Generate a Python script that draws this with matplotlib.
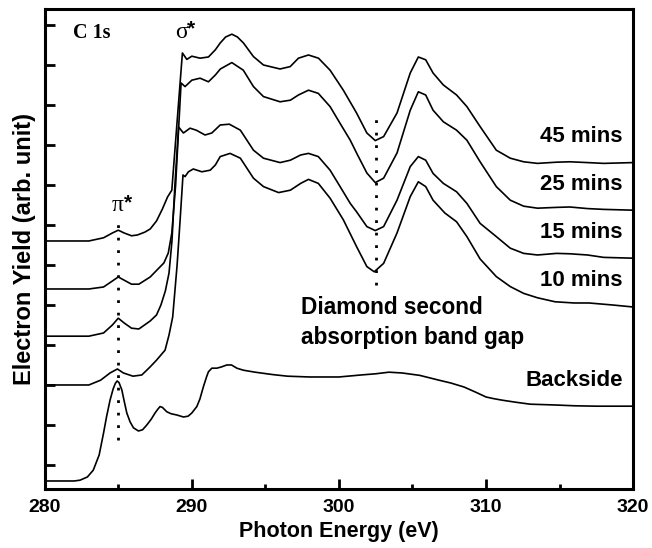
import numpy as np
import matplotlib
matplotlib.use("Agg")
import matplotlib.pyplot as plt

plt.rcParams['font.family'] = ['Liberation Sans', 'DejaVu Sans']
plt.rcParams['font.weight'] = 'bold'

# נתוני הספקטרום (קריאה מהגרף)
backside_x = [280.0, 282.0, 282.4, 282.9, 283.3, 283.7, 284.0, 284.2, 284.44, 284.65, 284.8, 284.92,
              285.05, 285.24, 285.4, 285.58, 285.8, 286.03, 286.37, 286.65, 286.94, 287.25, 287.5,
              287.7, 287.84, 288.0, 288.3, 288.6, 288.98, 289.43, 289.75, 290.0, 290.34, 290.55,
              290.79, 291.0, 291.13, 291.36, 291.7, 292.0, 292.38, 292.7, 293.06, 293.5, 294.3,
              295.5, 296.5, 298.0, 300.0, 301.5, 302.5, 303.4, 304.3, 305.5, 306.8, 307.6, 308.5,
              309.3, 310.0, 310.5, 311.1, 312.0, 313.0, 314.7, 316.0, 317.5, 320.0]
backside_y = [0.20, 0.20, 0.22, 0.30, 0.47, 0.85, 1.4, 1.8, 2.22, 2.5, 2.64, 2.7,
              2.66, 2.48, 2.2, 1.9, 1.68, 1.53, 1.45, 1.48, 1.6, 1.75, 1.9,
              2.0, 2.06, 2.04, 1.93, 1.88, 1.85, 1.8, 1.82, 1.9, 2.06, 2.25,
              2.56, 2.8, 2.93, 3.02, 3.02, 3.05, 3.1, 3.1, 3.02, 2.97, 2.92,
              2.86, 2.82, 2.8, 2.8, 2.85, 2.88, 2.92, 2.9, 2.84, 2.72, 2.65, 2.55,
              2.42, 2.3, 2.26, 2.22, 2.17, 2.12, 2.1, 2.08, 2.07, 2.07]

m10_x = [280.0, 283.0, 283.8, 284.44, 284.94, 285.35, 286.0, 286.6, 287.16, 287.6, 288.18, 288.45,
         288.7, 289.0, 289.2, 289.4, 289.54, 289.77, 290.1, 290.68, 291.25, 291.6, 291.93, 292.6,
         293.3, 294.19, 294.87, 295.9, 296.7, 297.4, 297.93, 298.6, 299.4, 300.3, 301.2, 301.9,
         302.4, 303.04, 303.95, 304.85, 305.4, 305.9, 306.4, 307.2, 308.0, 308.7, 309.6, 310.7,
         311.65, 312.56, 313.5, 314.7, 316.0, 317.0, 318.6, 320.0]
m10_y = [2.6, 2.6, 2.72, 2.9, 3.0, 2.9, 2.82, 2.85, 3.05, 3.22, 3.47, 3.85,
         4.3, 5.6, 6.7, 7.85, 7.81, 7.93, 8.0, 7.93, 7.97, 8.1, 8.31, 8.39,
         8.27, 7.77, 7.56, 7.41, 7.47, 7.64, 7.74, 7.64, 7.27, 6.73, 6.06, 5.56,
         5.43, 5.64, 6.4, 7.31, 7.68, 7.56, 7.22, 6.9, 6.68, 6.31, 5.75, 5.31,
         5.06, 4.89, 4.78, 4.68, 4.65, 4.65, 4.6, 4.55]

m15_x = [280.0, 283.0, 284.0, 284.6, 285.0, 285.4, 285.9, 286.4, 287.17, 287.6, 287.9, 288.2,
         288.45, 288.65, 288.85, 289.1, 289.43, 289.88, 290.3, 290.9, 291.36, 291.93, 292.55, 293.3,
         294.19, 294.87, 296.0, 296.7, 297.4, 297.93, 298.6, 299.4, 300.08, 300.77, 301.2, 301.9,
         302.47, 303.04, 303.95, 304.85, 305.4, 305.9, 306.4, 307.1, 308.0, 308.7, 309.6, 310.7,
         311.65, 312.56, 313.5, 314.8, 315.7, 316.9, 318.0, 320.0]
m15_y = [3.82, 3.82, 3.9, 4.1, 4.27, 4.15, 4.02, 4.0, 4.2, 4.35, 4.6, 4.95,
         5.4, 6.2, 7.6, 9.05, 8.9, 9.02, 8.97, 8.85, 8.9, 9.1, 9.12, 8.97,
         8.47, 8.27, 8.16, 8.22, 8.35, 8.39, 8.31, 7.97, 7.56, 7.14, 6.93, 6.56,
         6.46, 6.56, 7.22, 8.06, 8.31, 8.22, 7.89, 7.64, 7.43, 7.14, 6.64, 6.31,
         6.02, 5.89, 5.85, 5.89, 5.88, 5.85, 5.79, 5.77]

m25_x = [280.0, 283.0, 284.0, 284.6, 285.0, 285.4, 285.9, 286.4, 287.17, 287.7, 288.1, 288.4,
         288.64, 288.9, 289.1, 289.27, 289.54, 290.0, 290.56, 291.13, 291.6, 291.94, 292.72, 293.5,
         294.19, 294.87, 296.0, 296.7, 297.25, 297.93, 298.6, 299.4, 300.08, 300.77, 301.2, 301.9,
         302.47, 303.04, 303.95, 304.85, 305.4, 305.9, 306.4, 307.1, 308.0, 308.7, 309.6, 310.7,
         311.65, 312.56, 313.5, 314.8, 315.7, 316.9, 318.0, 320.0]
m25_y = [5.0, 5.0, 5.05, 5.2, 5.3, 5.22, 5.12, 5.12, 5.3, 5.5, 5.65, 5.9,
         6.4, 7.6, 9.0, 10.15, 10.06, 10.22, 10.27, 10.18, 10.35, 10.5, 10.66, 10.47,
         10.06, 9.81, 9.68, 9.72, 9.85, 9.97, 9.89, 9.56, 9.14, 8.72, 8.4, 7.9,
         7.66, 7.77, 8.4, 9.47, 9.93, 9.85, 9.47, 9.18, 8.97, 8.72, 8.18, 7.56,
         7.22, 7.07, 7.02, 7.04, 7.05, 7.01, 6.99, 6.97]

m45_x = [280.0, 283.0, 284.0, 284.6, 285.0, 285.4, 285.9, 286.3, 286.8, 287.17, 287.6, 288.0,
         288.35, 288.64, 289.36, 289.66, 290.0, 290.56, 291.13, 291.6, 291.93, 292.3, 292.72, 293.1,
         293.51, 294.19, 294.87, 296.0, 296.69, 297.25, 297.93, 298.61, 299.4, 300.3, 301.2, 301.9,
         302.47, 303.04, 303.95, 304.85, 305.4, 305.9, 306.4, 307.1, 308.0, 308.7, 309.6, 310.7,
         311.65, 312.56, 313.5, 314.8, 315.7, 316.9, 318.0, 320.0]
m45_y = [6.2, 6.2, 6.28, 6.4, 6.47, 6.4, 6.33, 6.35, 6.42, 6.5, 6.7, 7.0,
         7.3, 7.47, 10.9, 10.74, 10.82, 10.77, 10.8, 10.98, 11.15, 11.3, 11.37, 11.3,
         11.15, 10.81, 10.6, 10.5, 10.56, 10.77, 10.85, 10.77, 10.47, 9.97, 9.4, 8.9,
         8.71, 8.81, 9.4, 10.4, 10.8, 10.73, 10.4, 10.1, 9.85, 9.56, 9.06, 8.47,
         8.27, 8.18, 8.14, 8.17, 8.18, 8.16, 8.14, 8.16]

curve_labels = ["45 mins", "25 mins", "15 mins", "10 mins", "Backside"]
label_y = [8.82, 7.62, 6.42, 5.22, 2.72]
xtick_vals = [280, 290, 300, 310, 320]

pi_star_x = 285.0
gap_x = 302.5

fig = plt.figure(figsize=(6.52, 5.48), dpi=100)
ax = fig.add_axes([0.0686, 0.1077, 0.9024, 0.8759])

for xs, ys in [(backside_x, backside_y), (m10_x, m10_y), (m15_x, m15_y),
               (m25_x, m25_y), (m45_x, m45_y)]:
    ax.plot(xs, ys, color='black', lw=1.2, solid_joinstyle='round')

# קווים מנוקדים
ax.plot([pi_star_x, pi_star_x], [1.22, 6.78], color='black', lw=2, linestyle=(0, (1, 3.5)))
ax.plot([gap_x, gap_x], [5.1, 9.27], color='black', lw=2, linestyle=(0, (1, 3.5)))

for lab, yy in zip(curve_labels, label_y):
    ax.text(319.3, yy, lab, ha='right', va='center', fontsize=16, fontweight='bold')

ax.text(297.4, 4.17, "Diamond second\nabsorption band gap", ha='left', va='center',
        fontsize=16.3, fontweight='bold', linespacing=1.4)
ax.text(281.9, 11.4, "C 1s", ha='left', va='center', fontsize=14.5, fontweight='bold',
        family='Liberation Serif')
# σ* ו-π*
ax.text(288.85, 11.42, "σ", ha='left', va='center', fontsize=17, fontweight='normal',
        family='Liberation Serif')
ax.text(289.7, 11.5, "*", ha='left', va='center', fontsize=15, fontweight='bold')
ax.text(284.55, 7.08, "π", ha='left', va='center', fontsize=17, fontweight='normal',
        family='Liberation Serif')
ax.text(285.4, 7.16, "*", ha='left', va='center', fontsize=15, fontweight='bold')

ax.set_xlim(280, 320)
ax.set_ylim(0, 12)
ax.set_xticks(xtick_vals)
ax.set_xticklabels([str(v) for v in xtick_vals])
ax.set_xticks([285, 295, 305, 315], minor=True)
ax.set_yticks(np.arange(0.6, 12, 1.0))
ax.set_yticklabels([])
ax.tick_params(axis='both', which='major', direction='in', length=7, width=2)
ax.tick_params(axis='x', which='minor', direction='in', length=3.5, width=2)
ax.tick_params(axis='x', which='major', pad=7, labelsize=14)
for tk in ax.xaxis.get_major_ticks():
    tk.label1.set_fontweight('heavy')
    tk.label1.set_family('Liberation Sans')
for sp in ax.spines.values():
    sp.set_linewidth(2.2)

ax.set_xlabel("Photon Energy (eV)", fontsize=15.5, fontweight='bold', labelpad=4)
ax.set_ylabel("Electron Yield (arb. unit)", fontsize=17, fontweight='bold', labelpad=3)

fig.savefig("out.png", dpi=100)
